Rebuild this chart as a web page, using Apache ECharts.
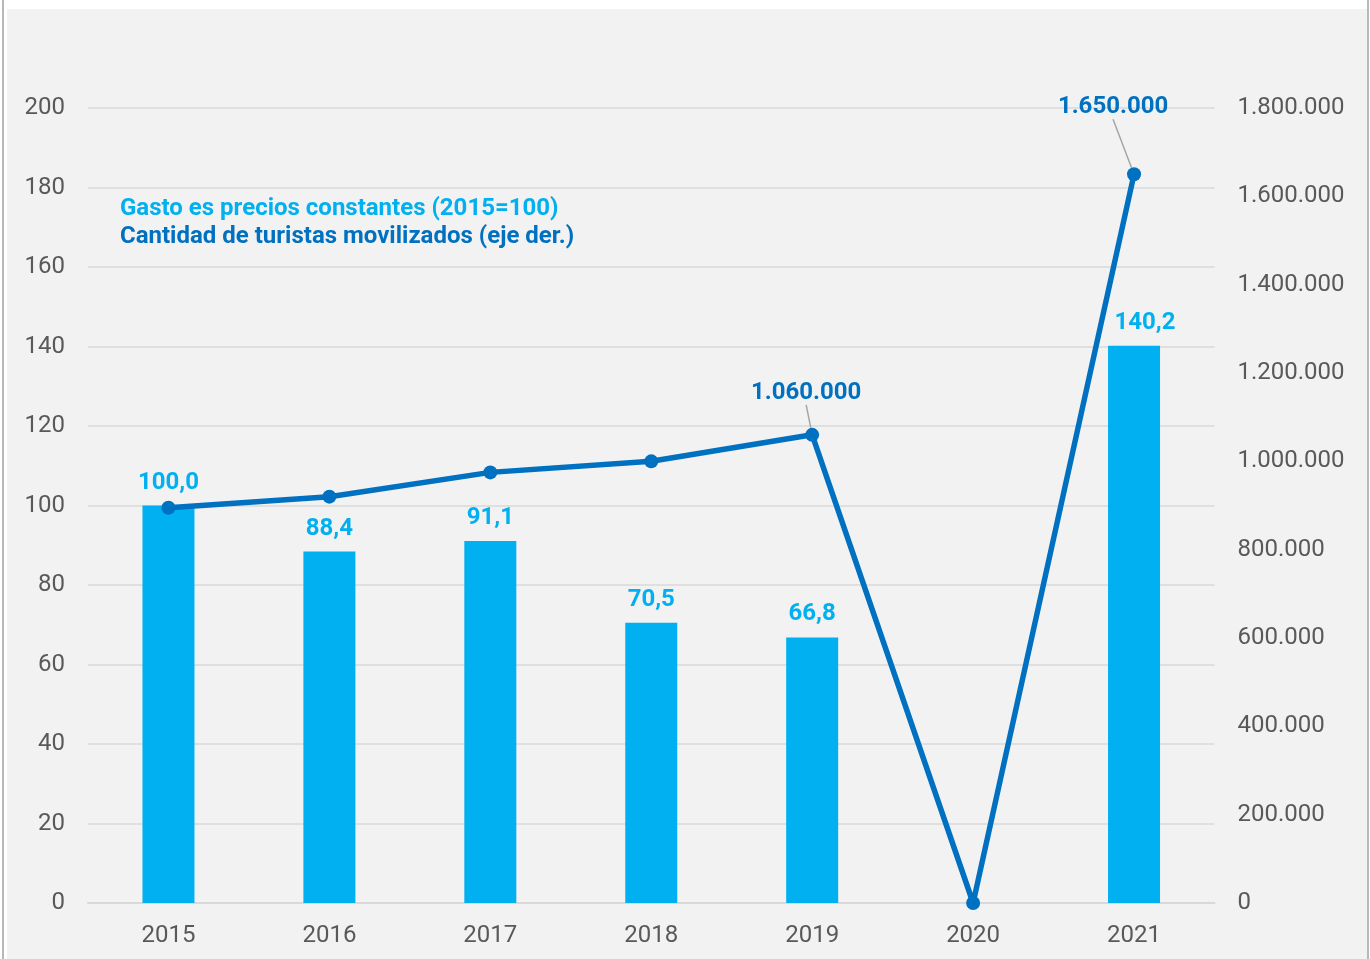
<!DOCTYPE html>
<html>
<head>
<meta charset="utf-8">
<style>
  html, body { margin: 0; padding: 0; background: #ffffff; }
  body { width: 1370px; height: 959px; position: relative; overflow: hidden; }
  .frame-l { position: absolute; left: 2px; top: 0; width: 2px; height: 959px; background: #b8b8b8; }
  .frame-r { position: absolute; left: 1367px; top: 0; width: 2px; height: 959px; background: #b8b8b8; }
  #chart { position: absolute; left: 7px; top: 9px; width: 1360px; height: 950px; background: #f2f2f2; }
</style>
<script src="https://cdn.jsdelivr.net/npm/echarts@6/dist/echarts.min.js"></script>
</head>
<body>
<div class="frame-l"></div>
<div class="frame-r"></div>
<div id="chart"></div>
<script>
// Years on the category axis
const years = ['2015', '2016', '2017', '2018', '2019', '2020', '2021'];
// Tourism spending at constant prices, index 2015 = 100 (no value for 2020)
const gasto = [100.0, 88.4, 91.1, 70.5, 66.8, null, 140.2];
// Number of tourists travelling (right axis)
const turistas = [895000, 920000, 975000, 1000000, 1060000, 0, 1650000];
// Years whose tourist count gets a value label
const labelledYears = ['2019', '2021'];

const seriesNames = ['Gasto es precios constantes (2015=100)', 'Cantidad de turistas movilizados (eje der.)'];
const lightBlue = '#00B0F0';
const darkBlue = '#0070C0';
const axisGrey = '#595959';
const gridGrey = '#d9d9d9';
const fontFamily = 'Roboto, "Noto Sans", sans-serif';

function thousands(v) {
  return String(Math.round(v)).replace(/\B(?=(\d{3})+(?!\d))/g, '.');
}
function decimalComma(v) {
  return v.toFixed(1).replace('.', ',');
}

const chart = echarts.init(document.getElementById('chart'), null, { renderer: 'canvas' });

// The 2021 bar label sits a little to the right so the line does not cross it
const barData = gasto.map((v, i) => {
  const item = { value: v };
  if (years[i] === '2021') item.label = { offset: [11, 0] };
  return item;
});

const lineData = turistas.map((v, i) => {
  const item = { value: v };
  if (labelledYears.indexOf(years[i]) >= 0) {
    item.label = { show: true };
    item.labelLine = { show: true };
  } else {
    item.label = { show: false };
  }
  return item;
});

chart.setOption({
  backgroundColor: '#f2f2f2',
  animation: false,
  textStyle: { fontFamily: fontFamily },
  grid: { left: 81, right: 152.5, top: 99, bottom: 56, containLabel: false },
  legend: {
    orient: 'vertical',
    left: 103,
    top: 183,
    icon: 'none',
    itemWidth: 0,
    itemHeight: 0,
    itemGap: 4,
    selectedMode: false,
    data: [
      { name: seriesNames[0], textStyle: { color: lightBlue } },
      { name: seriesNames[1], textStyle: { color: darkBlue } }
    ],
    textStyle: { fontSize: 24, fontWeight: 'bold', fontFamily: fontFamily }
  },
  xAxis: {
    type: 'category',
    data: years,
    axisTick: { show: false },
    axisLine: { show: true, lineStyle: { color: gridGrey, width: 2 } },
    axisLabel: { color: axisGrey, fontSize: 24, margin: 21, fontFamily: fontFamily }
  },
  yAxis: [
    {
      type: 'value',
      min: 0, max: 200, interval: 20,
      axisLine: { show: false },
      axisTick: { show: false },
      splitLine: { show: true, lineStyle: { color: gridGrey, width: 1.5 } },
      axisLabel: { color: axisGrey, fontSize: 24, margin: 23, padding: [4, 0, 0, 0], fontFamily: fontFamily }
    },
    {
      type: 'value',
      min: 0, max: 1800000, interval: 200000,
      axisLine: { show: false },
      axisTick: { show: false },
      splitLine: { show: false },
      axisLabel: {
        color: axisGrey, fontSize: 24, margin: 23, padding: [4, 0, 0, 0], fontFamily: fontFamily,
        formatter: v => thousands(v)
      }
    }
  ],
  series: [
    {
      name: seriesNames[0],
      type: 'bar',
      data: barData,
      barWidth: 52,
      itemStyle: { color: lightBlue },
      label: {
        show: true,
        position: 'top',
        distance: 11,
        color: lightBlue,
        fontSize: 24,
        fontWeight: 'bold',
        fontFamily: fontFamily,
        formatter: p => (p.value == null ? '' : decimalComma(p.value))
      }
    },
    {
      name: seriesNames[1],
      type: 'line',
      yAxisIndex: 1,
      data: lineData,
      symbol: 'circle',
      symbolSize: 14,
      lineStyle: { color: darkBlue, width: 5.5 },
      itemStyle: { color: darkBlue },
      label: {
        position: 'top',
        distance: 5,
        color: darkBlue,
        fontSize: 24,
        fontWeight: 'bold',
        fontFamily: fontFamily,
        formatter: p => thousands(p.value)
      },
      labelLine: { lineStyle: { color: '#a6a6a6', width: 1.5 } },
      labelLayout: p => {
        if (years[p.dataIndex] === '2021') return { dx: -21, dy: -43 };
        if (years[p.dataIndex] === '2019') return { dx: -6, dy: -18 };
        return {};
      },
      z: 3
    }
  ]
});
</script>
</body>
</html>
